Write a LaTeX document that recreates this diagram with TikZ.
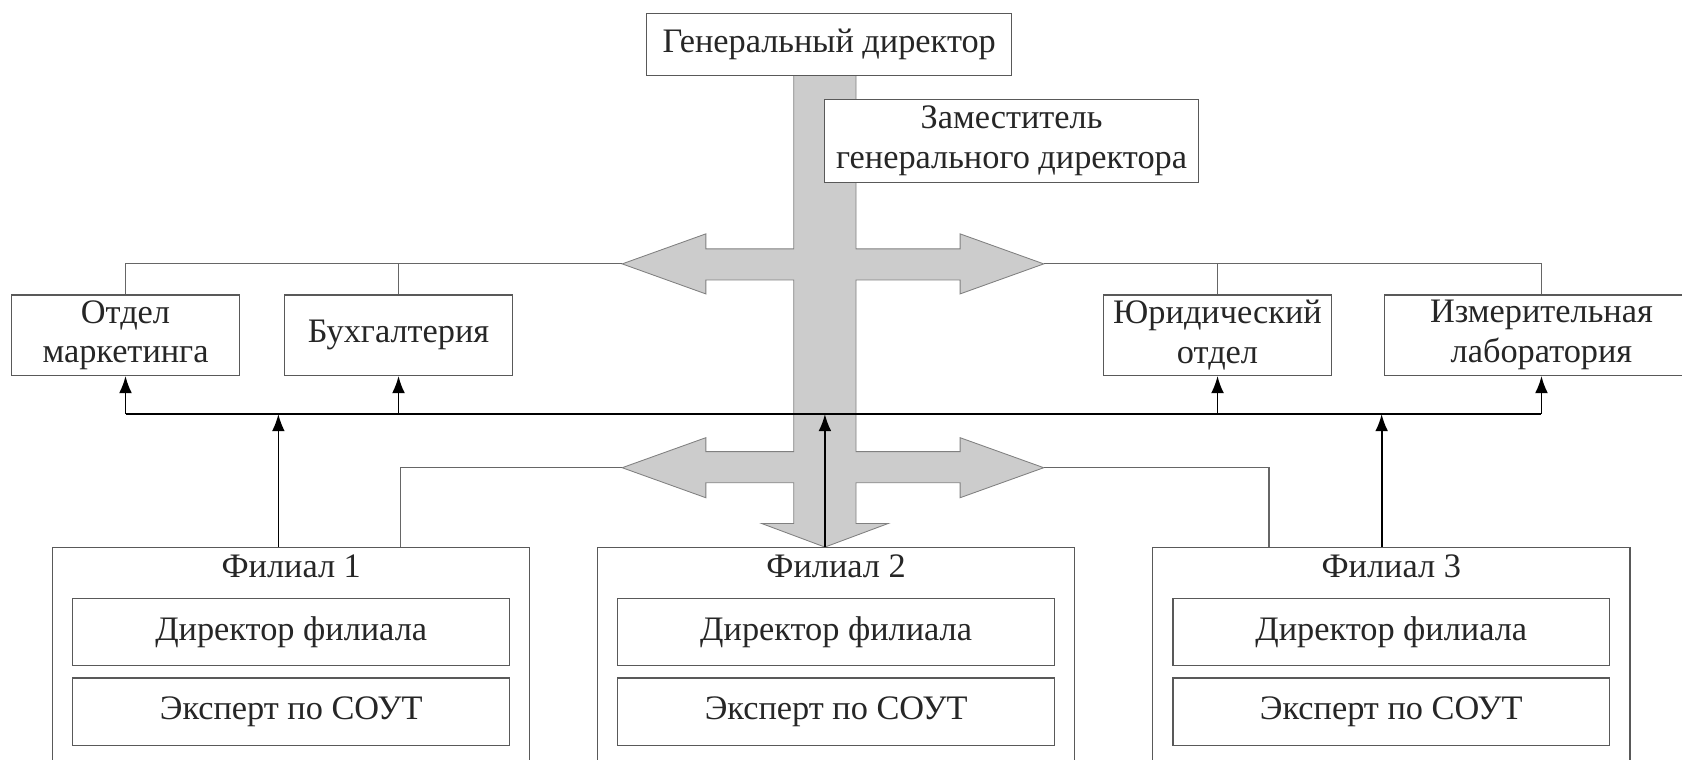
\documentclass[tikz,border=0pt]{standalone}
\usepackage{fontspec}
\setmainfont{Liberation Serif}
\usetikzlibrary{arrows.meta}

\tikzset{
  box/.style={draw=black!65, line width=0.5pt, fill=white, align=center, inner sep=0pt, text=black!85},
  gline/.style={draw=black!60, line width=0.5pt},
  bus/.style={draw=black, line width=0.8pt},
  uparrow/.style={bus, -{Latex[length=8pt,width=6pt]}},
  bigarrow/.style={fill=black!20, draw=black!50, line width=0.4pt},
}

\begin{document}
\begin{tikzpicture}[x=0.5pt, y=-0.5pt, font=\fontsize{16}{18.5}\selectfont]
 \clip (0,0) rectangle (1568,708);

 % grey arrows
 \draw[bigarrow] (740,70) -- (740,232) -- (658,232) -- (658,218) -- (580,246) -- (658,274) -- (658,261) -- (740,261)
   -- (740,421) -- (658,421) -- (658,408) -- (580,436) -- (658,464) -- (658,450) -- (740,450)
   -- (740,488) -- (710,488) -- (769,510) -- (828,488) -- (798,488)
   -- (798,450) -- (895,450) -- (895,464) -- (973,436) -- (895,408) -- (895,421) -- (798,421)
   -- (798,261) -- (895,261) -- (895,274) -- (973,246) -- (895,218) -- (895,232) -- (798,232)
   -- (798,70) -- cycle;
  \coordinate (UL) at (580,246);
  \coordinate (UR) at (973,246);
  \coordinate (LL) at (580,436);
  \coordinate (LR) at (973,436);

 % top
 \node[box, minimum width=170pt, minimum height=28.5pt] (gd) at (773,41.5) {Генеральный директор};
 \node[box, minimum width=174pt, minimum height=39pt] (zam) at (943,131.5) {Заместитель\\генерального директора};

 % departments
 \node[box, minimum width=106pt, minimum height=37.5pt] (om) at (117,312.5) {Отдел\\маркетинга};
 \node[box, minimum width=106.5pt, minimum height=37.5pt] (buh) at (371.5,312.5) {Бухгалтерия};
 \node[box, minimum width=106pt, minimum height=37.5pt] (yur) at (1135,312.5) {Юридический\\отдел};
 \node[box, minimum width=146pt, minimum height=37.5pt] (izm) at (1437,312.5) {Измерительная\\лаборатория};

 % branches
 \foreach \i/\x in {1/271.5, 2/779.5, 3/1297} {
  \node[box, minimum width=222.5pt, minimum height=110pt, anchor=north] (fil\i) at (\x,510) {};
  \node[text=black!85] (tit\i) at (\x,528) {Филиал \i};
  \node[box, minimum width=203.5pt, minimum height=31.5pt] (dir\i) at (\x,589) {Директор филиала};
  \node[box, minimum width=203.5pt, minimum height=31.5pt] (exp\i) at (\x,663.5) {Эксперт по СОУТ};
 }

 % grey links
 \draw[gline] (om.north) |- (UL);
 \draw[gline] (buh.north) -- (buh.north |- UL);
 \draw[gline] (izm.north) |- (UR);
 \draw[gline] (yur.north) -- (yur.north |- UR);
  \coordinate (F1g) at (373.5,510);
  \coordinate (F3g) at (1183,510);
 \draw[gline] (F1g) |- (LL);
 \draw[gline] (F3g) |- (LR);

 % bus
  \coordinate (bus) at (0,386);
 \draw[bus] (om.south |- bus) -- (izm.south |- bus);
 \foreach \n in {om,buh,yur,izm}
  \draw[uparrow] (\n.south |- bus) -- (\n.south);
  \coordinate (F1a) at (259.5,510);
  \coordinate (F2a) at (769,510);
  \coordinate (F3a) at (1288,510);
 \foreach \c in {F1a,F2a,F3a}
  \draw[uparrow] (\c) -- (\c |- bus);
\end{tikzpicture}
\end{document}
